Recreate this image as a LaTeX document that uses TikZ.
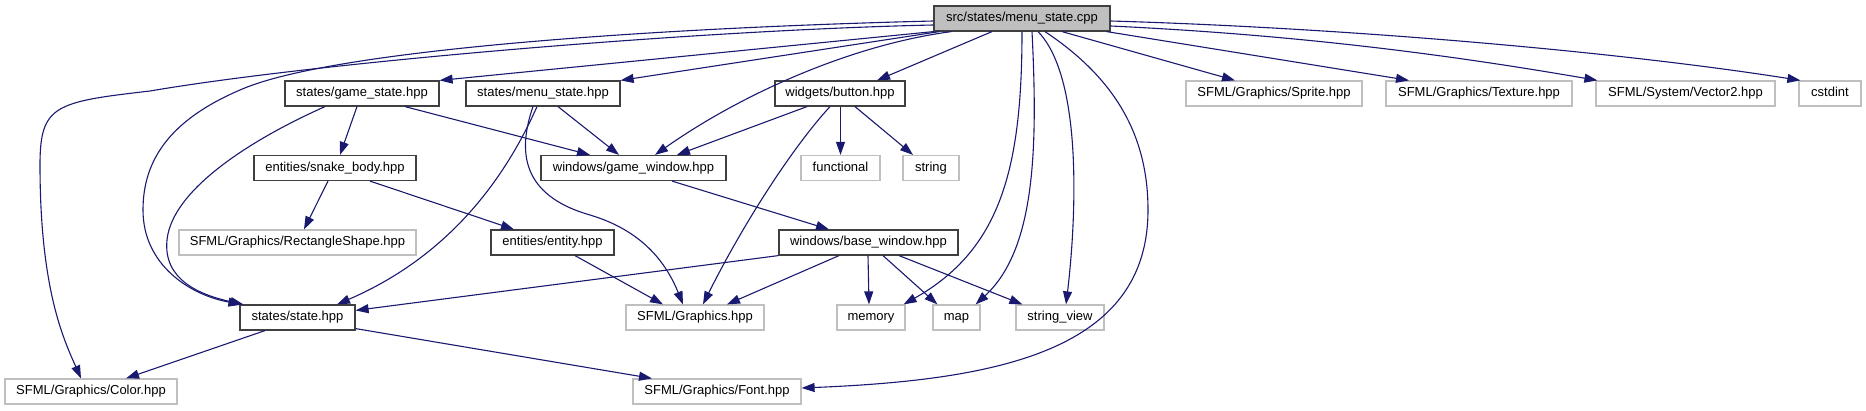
\documentclass[tikz,border=0pt]{standalone}
\usepackage{fontspec}
\setmainfont{Liberation Sans}
\usetikzlibrary{arrows.meta}
\definecolor{edgec}{HTML}{191970}
\definecolor{projb}{HTML}{404040}
\definecolor{extb}{HTML}{BFBFBF}
\definecolor{rootf}{HTML}{BFBFBF}
\begin{document}
\begin{tikzpicture}[x=1pt,y=-1pt,
  base/.style={rectangle, inner sep=0pt, minimum height=25pt, text height=9.6pt, text depth=2.9pt,
    font=\fontsize{13pt}{15pt}\selectfont, line width=1.2pt},
  proj/.style={base, draw=projb},
  ext/.style={base, draw=extb},
  rootbox/.style={base, draw=projb, fill=rootf},
  dep/.style={draw=edgec, line width=1.1pt, -{Triangle[length=13pt,width=9pt]}}
]
\useasboundingbox (0,0) rectangle (1866,411);
% row 0
\node[rootbox, minimum width=176pt] (root) at (1022,18.5) {src/states/menu\_state.cpp};
% row 1
\node[proj, minimum width=154pt] (gs) at (362,93.5) {states/game\_state.hpp};
\node[proj, minimum width=154pt] (msh) at (543,93.5) {states/menu\_state.hpp};
\node[proj, minimum width=130pt] (btn) at (840,93.5) {widgets/button.hpp};
\node[ext, minimum width=176pt] (sprite) at (1274,93.5) {SFML/Graphics/Sprite.hpp};
\node[ext, minimum width=186pt] (texture) at (1479,93.5) {SFML/Graphics/Texture.hpp};
\node[ext, minimum width=179pt] (vec) at (1685.5,93.5) {SFML/System/Vector2.hpp};
\node[ext, minimum width=62pt] (cstdint) at (1830,93.5) {cstdint};
% row 2
\node[proj, minimum width=162pt] (snake) at (335,168) {entities/snake\_body.hpp};
\node[proj, minimum width=185pt] (gw) at (633.5,168) {windows/game\_window.hpp};
\node[ext, minimum width=79pt] (func) at (840.5,168) {functional};
\node[ext, minimum width=56pt] (string) at (931,168) {string};
% row 3
\node[ext, minimum width=237pt] (rect) at (297.5,242.5) {SFML/Graphics/RectangleShape.hpp};
\node[proj, minimum width=123pt] (entity) at (552.5,242.5) {entities/entity.hpp};
\node[proj, minimum width=179pt] (bw) at (868.5,242.5) {windows/base\_window.hpp};
% row 4
\node[proj, minimum width=115pt] (state) at (297.5,317.5) {states/state.hpp};
\node[ext, minimum width=138pt] (gfx) at (695,317.5) {SFML/Graphics.hpp};
\node[ext, minimum width=68pt] (memory) at (871,317.5) {memory};
\node[ext, minimum width=47pt] (map) at (956.5,317.5) {map};
\node[ext, minimum width=88pt] (sv) at (1060,317.5) {string\_view};
% row 5
\node[ext, minimum width=172pt] (color) at (91,391.5) {SFML/Graphics/Color.hpp};
\node[ext, minimum width=168pt] (font) at (717,391.5) {SFML/Graphics/Font.hpp};

% edges from root
\draw[dep] (root.south west) -- (gs.north east);
\draw[dep] ([xshift=6pt]root.south west) -- (msh.north east);
\draw[dep] ([xshift=18pt]root.south west) .. controls (850,45) and (740,95) .. ([xshift=21.5pt]gw.north);
\draw[dep] ([xshift=-30pt]root.south) -- ([xshift=37pt]btn.north);
\draw[dep] (root.south) .. controls (1022,170) and (1000,250) .. ([xshift=-2pt]memory.north east);
\draw[dep] ([xshift=10pt]root.south) .. controls (1038,150) and (1035,250) .. ([xshift=-5pt]map.north east);
\draw[dep] ([xshift=16pt]root.south) .. controls (1085,80) and (1075,230) .. ([xshift=6pt]sv.north);
\draw[dep] ([xshift=23pt]root.south) .. controls (1110,75) and (1148,130) .. (1148,210)
   .. controls (1148,350) and (1000,380) .. ([yshift=3.5pt]font.east);
\draw[dep] ([xshift=40pt]root.south) -- ([xshift=-39pt]sprite.north);
\draw[dep] ([xshift=-4pt]root.south east) -- ([xshift=-70pt]texture.north);
\draw[dep] ([yshift=-7.5pt]root.east) .. controls (1300,35) and (1450,55) .. ([xshift=2pt]vec.north west);
\draw[dep] ([yshift=-2.5pt]root.east) .. controls (1350,28) and (1620,52) .. ([xshift=2pt]cstdint.north west);
\draw[dep] ([yshift=-2.5pt]root.west) .. controls (650,28) and (330,50) .. (240,90)
   .. controls (170,120) and (143,160) .. (143,210)
   .. controls (143,265) and (190,295) .. ([xshift=2pt]state.north west);
\draw[dep] ([yshift=-6.5pt]root.west) .. controls (700,30) and (320,62) .. (150,91)
   .. controls (55,102) and (40,105) .. (40,165)
   .. controls (40,290) and (64,340) .. ([xshift=-10pt]color.north);

% game_state
\draw[dep] ([xshift=-37pt]gs.south) .. controls (250,140) and (172,190) .. (167,240)
   .. controls (163,280) and (200,295) .. ([xshift=4pt]state.north west);
\draw[dep] ([xshift=-5pt]gs.south) -- ([xshift=5pt]snake.north);
\draw[dep] ([xshift=43pt]gs.south) -- ([xshift=-43.5pt]gw.north);
% menu_state.hpp
\draw[dep] ([xshift=15pt]msh.south) -- ([xshift=-14.5pt]gw.north);
\draw[dep] ([xshift=-6pt]msh.south) .. controls (500,190) and (440,260) .. ([xshift=39.5pt]state.north);
\draw[dep] ([xshift=-10pt]msh.south) .. controls (518,150) and (520,195) .. (590,215)
   .. controls (640,230) and (665,260) .. ([xshift=-12pt]gfx.north);
% button
\draw[dep] ([xshift=-33pt]btn.south) -- ([xshift=43.5pt]gw.north);
\draw[dep] ([xshift=-10pt]btn.south) .. controls (790,150) and (740,230) .. ([xshift=8pt]gfx.north);
\draw[dep] ([xshift=0.5pt]btn.south) -- (func.north);
\draw[dep] ([xshift=15pt]btn.south) -- ([xshift=-18pt]string.north);
% snake_body
\draw[dep] ([xshift=-7pt]snake.south) -- ([xshift=6.5pt]rect.north);
\draw[dep] ([xshift=35pt]snake.south) -- ([xshift=-38.5pt]entity.north);
% game_window
\draw[dep] ([xshift=38.5pt]gw.south) -- ([xshift=-39.5pt]bw.north);
% entity
\draw[dep] ([xshift=22.5pt]entity.south) -- ([xshift=-32pt]gfx.north);
% base_window
\draw[dep] (bw.south west) -- ([yshift=-6pt]state.north east);
\draw[dep] ([xshift=-29.5pt]bw.south) -- ([xshift=32pt]gfx.north);
\draw[dep] ([xshift=-0.5pt]bw.south) -- ([xshift=-2pt]memory.north);
\draw[dep] ([xshift=14.5pt]bw.south) -- ([xshift=5pt]map.north west);
\draw[dep] ([xshift=30.5pt]bw.south) -- ([xshift=7pt]sv.north west);
% state
\draw[dep] ([xshift=-32.5pt]state.south) -- ([xshift=35pt]color.north);
\draw[dep] ([yshift=2pt]state.south east) -- ([xshift=-65pt]font.north);
\end{tikzpicture}
\end{document}
